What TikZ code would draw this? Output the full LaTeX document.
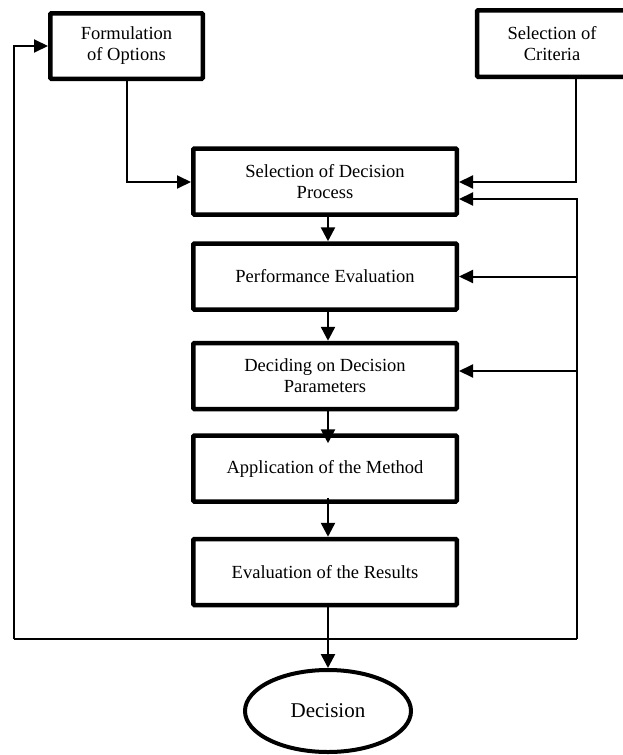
\documentclass[tikz,border=0pt]{standalone}
\usepackage{fontspec}
\setmainfont{Liberation Serif}
\usetikzlibrary{arrows.meta,shapes.geometric}
\begin{document}
\begin{tikzpicture}[x=1pt,y=-1pt,
  boxnode/.style={draw, line width=4.5pt, rounded corners=1pt, align=center,
    font=\fontsize{18.5}{21}\selectfont, inner sep=0pt},
  mainbox/.style={boxnode, minimum width=263.5pt, minimum height=66pt},
  thinarr/.style={line width=2pt, -{Triangle[length=14pt,width=13pt]}},
  thinline/.style={line width=2pt},
  flowarr/.style={line width=2.5pt, -{Triangle[length=14pt,width=14pt]}}]
\useasboundingbox (0,0) rectangle (623,755);

\node[boxnode, minimum width=152.5pt, minimum height=65.5pt] (form) at (126.5,46) {Formulation\\of Options};
\node[boxnode, minimum width=150pt, minimum height=66.5pt] (crit) at (552,43.5) {Selection of\\Criteria};

\node[mainbox] (sel) at (325,181.5) {Selection of Decision\\Process};
\node[mainbox] (perf) at (325,276.5) {Performance Evaluation};
\node[mainbox] (dpar) at (325,376) {Deciding on Decision\\Parameters};
\node[mainbox] (app) at (325,468.5) {Application of the Method};
\node[mainbox] (eval) at (325,572) {Evaluation of the Results};

\node[draw, ellipse, line width=4pt, minimum width=166pt, minimum height=82pt,
  inner sep=0pt, font=\fontsize{21}{24}\selectfont] (dec) at (328,711) {Decision};

% helper coordinates
\coordinate (bl) at (14,639);
\coordinate (br) at (577,639);
\coordinate (fbsel) at (577,199);
\coordinate (fbdpar) at (577,371);
\coordinate (critx) at (576,0);
\coordinate (selin) at (0,182);

% vertical flow
\draw[flowarr] ([xshift=3pt,yshift=1pt]sel.south) -- ([xshift=3pt]perf.north);
\draw[flowarr] ([xshift=3pt,yshift=2pt]perf.south) -- ([xshift=3pt]dpar.north);
\draw[flowarr] ([xshift=3pt,yshift=4pt]dpar.south) -- ([xshift=3pt,yshift=-10pt]app.north);
\draw[flowarr] ([xshift=3pt,yshift=6pt]app.south) -- ([xshift=3pt]eval.north);
\draw[flowarr] ([yshift=1pt]eval.south -| dec.north) -- (dec.north);

% inputs
\draw[thinarr] (form.south) |- (sel.west |- selin);
\draw[thinarr] (crit.south -| critx) |- (sel.east |- selin);

% feedback loop
\draw[thinarr] (bl) |- (form.west);
\draw[thinline] (bl) -- (br);
\draw[thinarr] (br) |- (sel.east |- fbsel);
\draw[thinarr] (br |- perf.east) -- (perf.east);
\draw[thinarr] (fbdpar) -- (dpar.east |- fbdpar);
\end{tikzpicture}
\end{document}
